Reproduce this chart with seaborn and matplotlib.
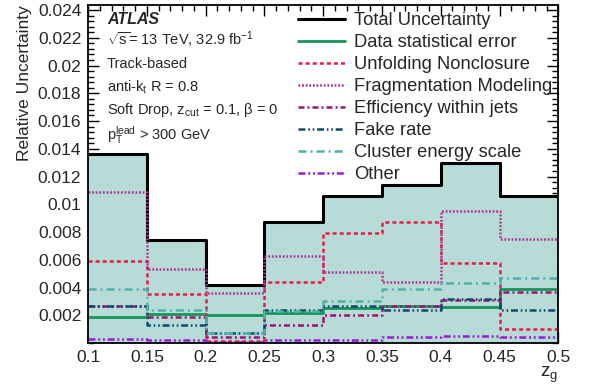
import numpy as np
import pandas as pd
import matplotlib
matplotlib.use("Agg")
import matplotlib.pyplot as plt
import seaborn as sns
from matplotlib.ticker import MultipleLocator

# ---- data ----
bin_edges = [0.10, 0.15, 0.20, 0.25, 0.30, 0.35, 0.40, 0.45, 0.50]
total_unc      = [0.0136, 0.0074, 0.0042, 0.0087, 0.0106, 0.0114, 0.0130, 0.0106]
data_stat      = [0.0019, 0.0021, 0.0020, 0.0022, 0.0025, 0.0027, 0.0026, 0.0039]
unfolding      = [0.0059, 0.0035, 0.00015, 0.0044, 0.0079, 0.0087, 0.0058, 0.0010]
fragmentation  = [0.0109, 0.0053, 0.0036, 0.0063, 0.0051, 0.0044, 0.0095, 0.0075]
efficiency     = [0.0027, 0.0019, 0.0004, 0.0013, 0.0020, 0.0027, 0.0031, 0.0037]
fake_rate      = [0.0027, 0.0013, 0.0007, 0.0024, 0.0027, 0.0024, 0.0032, 0.0024]
cluster_energy = [0.0039, 0.0024, 0.0007, 0.0023, 0.0030, 0.0039, 0.0043, 0.0047]
other          = [0.0003, 0.0002, 0.0001, 0.0002, 0.0002, 0.0004, 0.0005, 0.0004]

labels = ["Total Uncertainty", "Data statistical error", "Unfolding Nonclosure",
          "Fragmentation Modeling", "Efficiency within jets", "Fake rate",
          "Cluster energy scale", "Other"]

sns.set_theme(style="ticks")
plt.rcParams['font.family'] = ['Liberation Sans', 'DejaVu Sans']
plt.rcParams['mathtext.fontset'] = 'custom'
plt.rcParams['mathtext.rm'] = 'Liberation Sans'
plt.rcParams['mathtext.it'] = 'Liberation Sans:italic'
plt.rcParams['mathtext.bf'] = 'Liberation Sans:bold'
plt.rcParams['lines.scale_dashes'] = False

fig = plt.figure(figsize=(5.92, 3.85), dpi=100)
ax = fig.add_axes([0.149, 0.109, 0.794, 0.878])

def ext(v):
    return list(v) + [v[-1]]

# filled total band
ax.fill_between(bin_edges, ext(total_unc), step="post", color="#b7dcd8", lw=0, zorder=1)

series = [
    (total_unc, "black", 2.2, "-"),
    (data_stat, "#15955a", 2.0, "-"),
    (unfolding, "#e8194a", 1.8, (0, (2.9, 2.2))),
    (fragmentation, "#b03390", 1.8, (0, (1.3, 1.3))),
    (efficiency, "#9c1470", 1.8, (0, (4.3, 2.2, 1.4, 2.2))),
    (fake_rate, "#0e4a6c", 1.8, (0, (5.0, 2.0, 1.2, 2.0, 1.2, 2.0))),
    (cluster_energy, "#4fb2a9", 1.8, (0, (5.8, 2.9, 1.4, 2.9))),
    (other, "#9a1ad8", 1.8, (0, (5.0, 2.0, 1.4, 2.0, 1.4, 2.0))),
]

for (vals, col, lw, ls), lab in zip(series, labels):
    df = pd.DataFrame({"x": bin_edges, "y": ext(vals)})
    sns.lineplot(data=df, x="x", y="y", ax=ax, color=col, linewidth=lw,
                 linestyle=ls, drawstyle="steps-post", estimator=None,
                 label=lab, zorder=3)

ax.set_xlim(0.1, 0.5)
ax.set_ylim(0, 0.02436)
ax.xaxis.set_major_locator(MultipleLocator(0.05))
ax.xaxis.set_minor_locator(MultipleLocator(0.01))
ax.yaxis.set_major_locator(MultipleLocator(0.002))
ax.yaxis.set_minor_locator(MultipleLocator(0.0004))
ax.set_xticks(bin_edges)
ax.set_xticklabels(["0.1", "0.15", "0.2", "0.25", "0.3", "0.35", "0.4", "0.45", "0.5"])
ax.set_yticks(np.arange(0, 0.0241, 0.002)[1:])
ax.set_yticklabels(["0.002", "0.004", "0.006", "0.008", "0.01", "0.012", "0.014",
                    "0.016", "0.018", "0.02", "0.022", "0.024"])
ax.tick_params(which="both", direction="in", top=True, right=True, labelsize=12.5,
               color="black", width=1)
ax.tick_params(which="major", length=8, pad=5)
ax.tick_params(which="minor", length=4)
for s in ax.spines.values():
    s.set_linewidth(1.3)
    s.set_color("black")
    s.set_zorder(5)

ax.set_ylabel("Relative Uncertainty", fontsize=12.5, loc="top")
ax.set_xlabel("z$_\\mathregular{g}$", fontsize=13.5, loc="right", labelpad=0)

leg = ax.legend(loc="upper left", bbox_to_anchor=(0.43, 1.0), frameon=False,
                fontsize=13.2, handlelength=2.6, handletextpad=0.5,
                labelspacing=0.27, borderaxespad=0)

tx = 0.04
ax.text(tx, 0.956, "ATLAS", transform=ax.transAxes, fontsize=11.5,
        fontweight="bold", fontstyle="italic", va="center")
ax.text(tx, 0.896, r"$\sqrt{\mathregular{s}}$= 13 TeV, 32.9 fb$^{\mathregular{-1}}$",
        transform=ax.transAxes, fontsize=10.5, va="center")
ax.text(tx, 0.825, "Track-based", transform=ax.transAxes, fontsize=10.5, va="center")
ax.text(tx, 0.757, r"anti-k$_{\mathregular{t}}$ R = 0.8", transform=ax.transAxes,
        fontsize=10.5, va="center")
ax.text(tx, 0.689, r"Soft Drop, z$_{\mathregular{cut}}$ = 0.1, $\mathregular{\beta}$ = 0",
        transform=ax.transAxes, fontsize=10.5, va="center")
ax.text(tx, 0.615, r"p$_{\mathregular{T}}^{\mathregular{lead}}$ > 300 GeV",
        transform=ax.transAxes, fontsize=10.5, va="center")

fig.savefig("out.png", dpi=100)
